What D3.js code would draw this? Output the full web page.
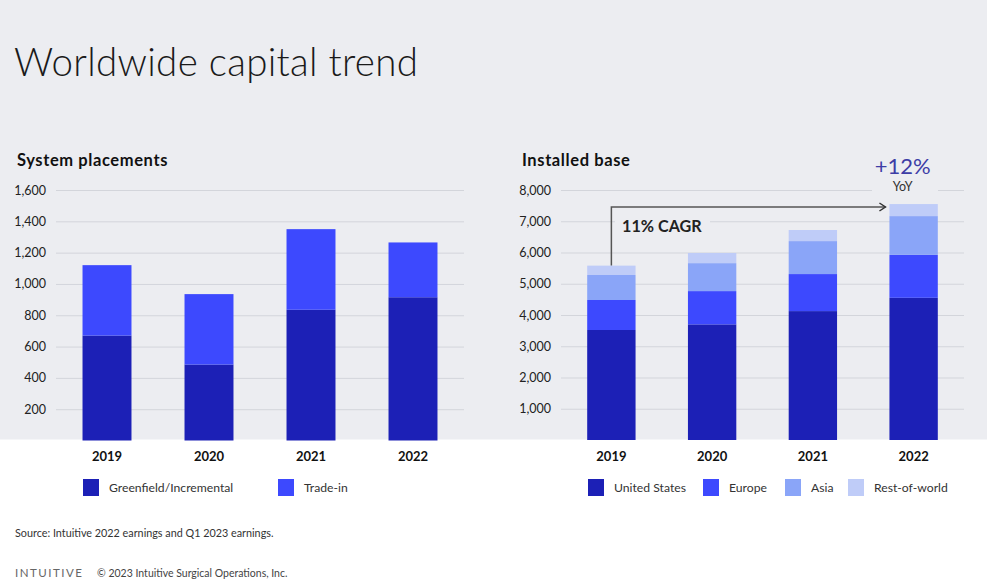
<!DOCTYPE html>
<html>
<head>
<meta charset="utf-8">
<script src="https://cdn.jsdelivr.net/npm/d3@7"></script>
<style>
  html, body { margin: 0; padding: 0; background: #ffffff; }
  svg { display: block; font-family: Lato, "Open Sans", sans-serif; }
</style>
</head>
<body>
<svg id="chart" width="987" height="588"></svg>
<script>
// ---- data ----
const years = ["2019", "2020", "2021", "2022"];

const placementSeries = ["Greenfield/Incremental", "Trade-in"];
const greenfield = [670, 485, 835, 915];
const tradeIn = [450, 450, 515, 350];
const placementTicks = [200, 400, 600, 800, 1000, 1200, 1400, 1600];

const baseSeries = ["United States", "Europe", "Asia", "Rest-of-world"];
const unitedStates = [3520, 3700, 4125, 4550];
const europe = [960, 1065, 1185, 1375];
const asia = [800, 895, 1055, 1240];
const restOfWorld = [300, 325, 355, 385];
const baseTicks = [1000, 2000, 3000, 4000, 5000, 6000, 7000, 8000];

const colors = ["#1c20b6", "#3d49fe", "#8aa5f8", "#bfccf8"];

// ---- svg ----
const svg = d3.select("#chart");
svg.append("rect").attr("x", 0).attr("y", 0).attr("width", 987).attr("height", 439.5).attr("fill", "#ecedf1");

svg.append("text").attr("x", 14).attr("y", 76)
  .attr("font-size", 38.5).attr("font-weight", 300).attr("fill", "#1a1a1a")
  .attr("letter-spacing", 0.3)
  .text("Worldwide capital trend");

function drawChart(opts) {
  const g = svg.append("g");
  const x = d3.scaleBand().domain(years).range([opts.x0, opts.x1]).paddingInner(0.52).paddingOuter(0.26);
  const y = d3.scaleLinear().domain([0, opts.max]).range([opts.yBase, 190]);

  g.append("text").attr("x", opts.titleX).attr("y", 166)
    .attr("font-size", 16.5).attr("font-weight", 700).attr("fill", "#111")
    .attr("letter-spacing", 0.6)
    .text(opts.title);

  // gridlines
  const yAxis = d3.axisLeft(y).tickValues(opts.ticks).tickSize(-(opts.x1 - opts.x0)).tickPadding(10)
    .tickFormat(d3.format(","));
  const ax = g.append("g").attr("transform", `translate(${opts.x0},0)`).call(yAxis);
  ax.select(".domain").remove();
  ax.selectAll(".tick line").attr("stroke", "#d3d5db").attr("stroke-width", 1);
  ax.selectAll(".tick text").attr("font-size", 12.5).attr("fill", "#222")
    .attr("font-family", "Lato, sans-serif");

  if (opts.extra) opts.extra(g, x, y);

  const rows = years.map((yr, i) => {
    const r = { year: yr };
    opts.keys.forEach((k, j) => r[k] = opts.values[j][i]);
    return r;
  });
  const stack = d3.stack().keys(opts.keys)(rows);
  g.selectAll("g.layer").data(stack).join("g").attr("class", "layer")
    .attr("fill", (d, i) => colors[i])
    .selectAll("rect").data(d => d).join("rect")
    .attr("x", d => x(d.data.year))
    .attr("width", x.bandwidth())
    .attr("y", d => y(d[1]))
    .attr("height", d => y(d[0]) - y(d[1]));

  // x axis labels
  const xAxis = d3.axisBottom(x).tickSize(0).tickPadding(0);
  const xa = g.append("g").attr("transform", `translate(0,${452})`).call(xAxis);
  xa.select(".domain").remove();
  xa.selectAll(".tick text").attr("font-size", 13).attr("font-weight", 700).attr("fill", "#111")
    .attr("font-family", "Lato, sans-serif").attr("dy", "0.71em");

  // legend
  const lg = g.selectAll("g.leg").data(opts.keys).join("g").attr("class", "leg")
    .attr("transform", (d, i) => `translate(${opts.legendX[i]},479)`);
  lg.append("rect").attr("width", 16).attr("height", 17).attr("fill", (d, i) => colors[i]);
  lg.append("text").attr("x", 26).attr("y", 13).attr("font-size", 12.2).attr("fill", "#333")
    .attr("font-family", "'Liberation Sans Narrow', Lato, sans-serif")
    .text(d => d);
}

drawChart({
  title: "System placements", titleX: 17,
  x0: 56, x1: 464, yBase: 440.5, max: 1600,
  ticks: placementTicks, keys: placementSeries, values: [greenfield, tradeIn],
  legendX: [83, 278]
});

drawChart({
  title: "Installed base", titleX: 522,
  x0: 561, x1: 964, yBase: 440, max: 8000,
  ticks: baseTicks, keys: baseSeries, values: [unitedStates, europe, asia, restOfWorld],
  legendX: [588, 703, 785, 848],
  extra: (g, x, y) => {
    const totals = years.map((yr, i) => unitedStates[i] + europe[i] + asia[i] + restOfWorld[i]);
    const xa = x(years[0]) + x.bandwidth() / 2;
    const xb = x(years[3]);
    const yTop = 207;
    // label backgrounds hiding gridlines
    g.append("rect").attr("x", 615).attr("y", 212).attr("width", 95).attr("height", 24).attr("fill", "#ecedf1");
    g.append("rect").attr("x", 872).attr("y", 180).attr("width", 66).attr("height", 16).attr("fill", "#ecedf1");
    g.append("path")
      .attr("d", `M${xa},${y(totals[0])} V${yTop} H${xb - 4}`)
      .attr("fill", "none").attr("stroke", "#555").attr("stroke-width", 1.5);
    g.append("path")
      .attr("d", `M${xb - 10},${yTop - 4} L${xb - 4},${yTop} L${xb - 10},${yTop + 4}`)
      .attr("fill", "none").attr("stroke", "#333").attr("stroke-width", 1.5);
    g.append("text").attr("x", 622).attr("y", 232).attr("font-size", 16.2).attr("font-weight", 700)
      .attr("fill", "#222").text("11% CAGR");
    const cx = x(years[3]) + x.bandwidth() / 2 - 11;
    g.append("text").attr("x", cx).attr("y", 174).attr("text-anchor", "middle")
      .attr("font-size", 22).attr("font-weight", 400).attr("fill", "#3d3da6").text("+12%");
    g.append("text").attr("x", cx).attr("y", 191).attr("text-anchor", "middle")
      .attr("font-size", 12.5).attr("fill", "#333").text("YoY");
  }
});

// footer
svg.append("text").attr("x", 15).attr("y", 537).attr("font-size", 10.8).attr("fill", "#333")
  .text("Source: Intuitive 2022 earnings and Q1 2023 earnings.");
svg.append("text").attr("x", 15).attr("y", 577).attr("font-size", 11.5).attr("fill", "#666")
  .attr("letter-spacing", 1.5).text("INTUITIVE");
svg.append("text").attr("x", 97).attr("y", 577).attr("font-size", 10.5).attr("fill", "#444")
  .text("© 2023 Intuitive Surgical Operations, Inc.");
</script>
</body>
</html>
